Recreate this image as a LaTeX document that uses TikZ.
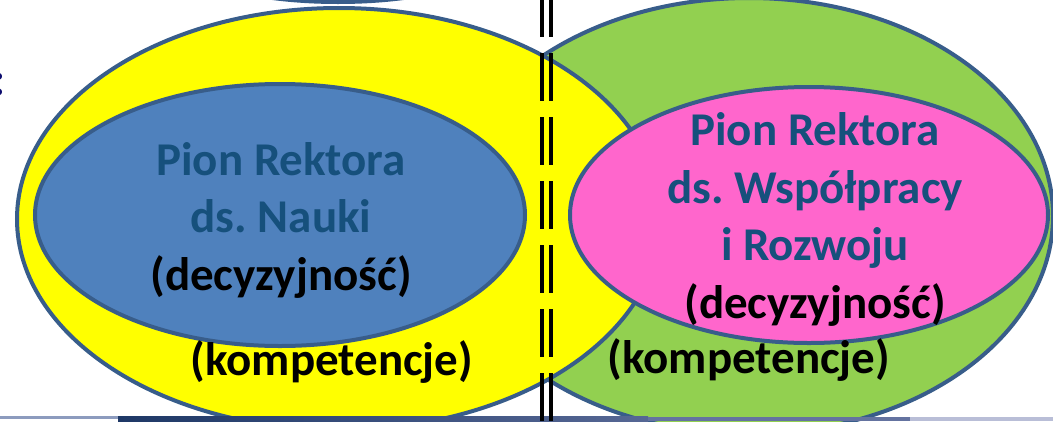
\documentclass[tikz,border=0pt]{standalone}
\usepackage{fontspec}
\setmainfont{Carlito}
\frenchspacing
\usetikzlibrary{shapes.geometric, positioning}
\definecolor{outline}{RGB}{56, 93, 138}
\definecolor{ovalyellow}{RGB}{255, 255, 0}
\definecolor{ovalgreen}{RGB}{146, 208, 80}
\definecolor{ovalblue}{RGB}{79, 129, 189}
\definecolor{ovalpink}{RGB}{255, 102, 204}
\definecolor{titleblue}{RGB}{22, 80, 124}
\definecolor{navy}{RGB}{12, 12, 110}
\definecolor{footthin}{RGB}{140, 155, 190}
\definecolor{footdark}{RGB}{30, 56, 102}
\definecolor{footmid}{RGB}{100, 115, 160}
\definecolor{footlight}{RGB}{185, 190, 215}

\begin{document}
\begin{tikzpicture}[
    x=1pt, y=-1pt,
    oval/.style={draw=outline, line width=4pt, ellipse, inner sep=0pt},
    ovaltext/.style={font=\fontsize{47}{57.5}\selectfont\bfseries, align=center, inner sep=0pt, anchor=base},
    rule/.style={line width=4pt, black, dash pattern=on 48pt off 16pt, dash phase=11pt}
]
\useasboundingbox (0,0) rectangle (1053,421);
\fill[white] (0,0) rectangle (1053,421);

% Ovals
\node[oval, fill=white, minimum width=300pt, minimum height=80pt] (topoval) at (338,-38) {};
\node[oval, fill=ovalgreen, minimum width=608pt, minimum height=436pt] (green) at (749,216) {};
\node[oval, fill=ovalyellow, minimum width=644pt, minimum height=422pt] (yellow) at (339,219) {};
\node[oval, fill=ovalblue, minimum width=490pt, minimum height=262pt] (blue) at (280,215) {};
\node[oval, fill=ovalpink, minimum width=478pt, minimum height=256pt] (pink) at (809,215) {};

% Texts (base = last line)
\node[ovaltext, text=navy] (colon) at (-1.5,95) {:};
\node[ovaltext] (nauka) at (281,290) {\textcolor{titleblue}{Pion Rektora}\\\textcolor{titleblue}{ds. Nauki}\\(decyzyjność)};
\node[ovaltext] (rozwoj) at (815,318) {\textcolor{titleblue}{Pion Rektora}\\\textcolor{titleblue}{ds. Współpracy}\\\textcolor{titleblue}{i Rozwoju}\\(decyzyjność)};
\node[ovaltext] (kompyellow) at (332,375) {(kompetencje)};
\node[ovaltext] (kompgreen) at (749,373) {(kompetencje)};

% Footer bar
\fill[footthin] (0,416) rectangle (118,419);
\shade[left color=footdark, right color=footmid!80!footdark] (118,416.5) rectangle (648,421);
\fill[footmid] (648,416.5) rectangle (910,421);
\fill[footlight] (910,416.5) rectangle (1053,421);

% Double dashed rule
\coordinate (ruletop) at (546.5,0);
\coordinate (rulebottom) at (546.5,421);
\draw[rule] ([xshift=-4.5pt]ruletop) -- ([xshift=-4.5pt]rulebottom);
\draw[rule] ([xshift=4.5pt]ruletop) -- ([xshift=4.5pt]rulebottom);

\end{tikzpicture}
\end{document}
